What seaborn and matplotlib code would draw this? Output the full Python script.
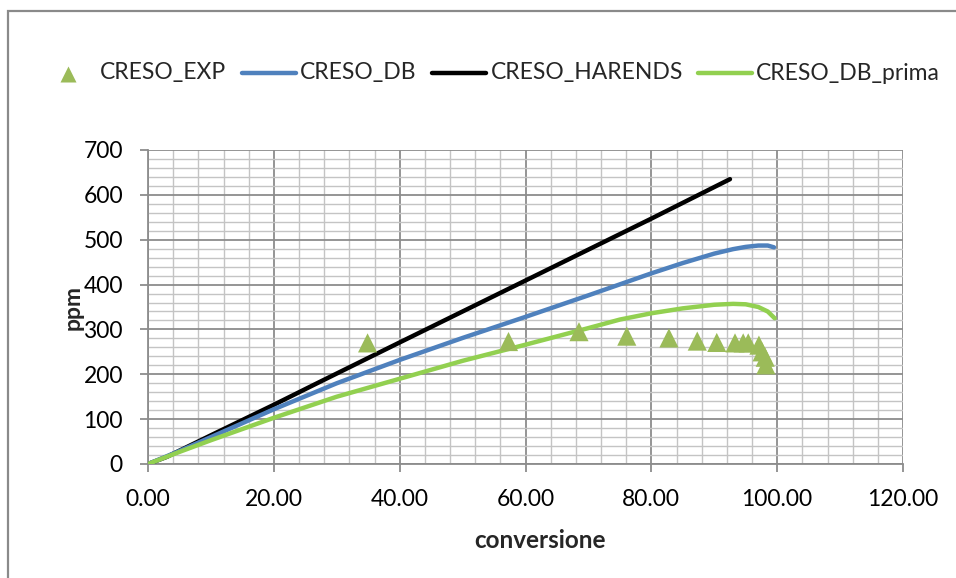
import numpy as np
import pandas as pd
import matplotlib
matplotlib.use("Agg")
import matplotlib.pyplot as plt
from matplotlib.patches import Rectangle
from matplotlib.ticker import MultipleLocator, FormatStrFormatter
from matplotlib.lines import Line2D
import seaborn as sns

# Experimental cresol measurements
exp_conv = [34.9, 57.3, 68.5, 76.1, 82.8, 87.3, 90.4, 93.3, 94.6, 95.4, 97.1, 97.6, 98.1, 98.2]
exp_ppm = [270, 273, 295, 285, 281, 274, 271, 270, 270, 270, 265, 250, 238, 221]

# Model curve: CRESO_DB
db_conv = [0, 5, 10, 20, 30, 40, 50, 60, 70, 80, 85, 90, 93, 95, 97, 98.5, 99.5]
db_ppm = [0, 29, 60, 122, 180, 232, 281, 328, 376, 425, 448, 469, 479, 484, 487, 487, 483]

# Model curve: CRESO_HARENDS
har_conv = [0, 3, 10, 20, 27.3, 40, 60, 80, 92.5]
har_ppm = [0, 16, 64, 132, 183, 271, 409, 547, 635]

# Model curve: CRESO_DB_prima
dbp_conv = [0, 5, 10, 20, 30, 40, 50, 60, 70, 75, 80, 85, 90, 93, 95, 97, 98.5, 99.6]
dbp_ppm = [0, 27, 53, 103, 150, 190, 230, 266, 303, 322, 336, 347, 355, 357, 356, 350, 340, 325]

series_names = ["CRESO_EXP", "CRESO_DB", "CRESO_HARENDS", "CRESO_DB_prima"]

sns.set_theme(style="white")
plt.rcParams["font.family"] = ["Lato", "DejaVu Sans"]

W, H = 956, 578
fig = plt.figure(figsize=(W / 100, H / 100), dpi=100)
ax = fig.add_axes([148 / W, 1 - 464 / H, 755 / W, 314 / H])

major_c = "#8c8c8c"
minor_c = "#c4c4c4"

ax.set_xlim(0, 120)
ax.set_ylim(0, 700)
ax.xaxis.set_major_locator(MultipleLocator(20))
ax.xaxis.set_minor_locator(MultipleLocator(4))
ax.yaxis.set_major_locator(MultipleLocator(100))
ax.yaxis.set_minor_locator(MultipleLocator(20))
ax.xaxis.set_major_formatter(FormatStrFormatter("%.2f"))
ax.grid(which="major", color=major_c, lw=1.3, zorder=0)
ax.grid(which="minor", color=minor_c, lw=1.0, zorder=0)
ax.set_axisbelow(True)
for s in ["left", "bottom"]:
    ax.spines[s].set_color(major_c)
    ax.spines[s].set_linewidth(1.3)
for s in ["top", "right"]:
    ax.spines[s].set_visible(False)
ax.tick_params(which="major", direction="out", length=6, width=1.3, color=major_c,
               labelsize=16.5, labelcolor="black", bottom=True, left=True)
ax.tick_params(axis="x", which="major", pad=12)
ax.tick_params(axis="y", which="major", pad=12)
ax.tick_params(which="minor", length=0)

blue = "#4F81BD"
green = "#92D050"
tri = "#9BBB59"
lw = 3.2

df_db = pd.DataFrame({"conv": db_conv, "ppm": db_ppm})
df_har = pd.DataFrame({"conv": har_conv, "ppm": har_ppm})
df_dbp = pd.DataFrame({"conv": dbp_conv, "ppm": dbp_ppm})
df_exp = pd.DataFrame({"conv": exp_conv, "ppm": exp_ppm})

sns.lineplot(data=df_har, x="conv", y="ppm", ax=ax, color="black", lw=lw, sort=False,
             estimator=None, solid_capstyle="round", zorder=3)
sns.lineplot(data=df_db, x="conv", y="ppm", ax=ax, color=blue, lw=lw, sort=False,
             estimator=None, solid_capstyle="round", zorder=4)
sns.lineplot(data=df_dbp, x="conv", y="ppm", ax=ax, color=green, lw=lw, sort=False,
             estimator=None, solid_capstyle="round", zorder=5)
sns.scatterplot(data=df_exp, x="conv", y="ppm", ax=ax, marker="^", s=190, color=tri,
                edgecolor="none", zorder=6)

ax.set_xlabel("conversione", fontsize=17.5, fontweight="bold")
ax.set_ylabel("ppm", fontsize=16.5, fontweight="bold")
ax.xaxis.set_label_coords((540 - 148) / 755, -(540 - 464) / 314)
ax.yaxis.set_label_coords(-(148 - 73) / 755, (464 - 307) / 314)
ax.xaxis.label.set_va("center")
ax.yaxis.label.set_va("center")


def fx(px):
    return px / W


def fy(py):
    return 1 - py / H


# Legend row drawn in figure pixels
ly = 73
fig.add_artist(Line2D([fx(68)], [fy(ly + 1)], ls="none", marker="^", ms=12, color=tri,
                      mec="none", transform=fig.transFigure))
legend_lines = [(blue, 242, 296, 300), ("black", 432, 486, 491), (green, 698, 752, 756)]
fig.text(fx(100), fy(ly), series_names[0], fontsize=16.5, va="center", ha="left")
for (c, x0, x1, tx), name in zip(legend_lines, series_names[1:]):
    fig.add_artist(Line2D([fx(x0), fx(x1)], [fy(ly), fy(ly)], color=c, lw=lw,
                          solid_capstyle="round", transform=fig.transFigure))
    fig.text(fx(tx), fy(ly), name, fontsize=16.5, va="center", ha="left")

fig.patches.append(Rectangle((8 / W, -0.1), 1.2, 1 - 11 / H + 0.1,
                             transform=fig.transFigure, fill=False,
                             edgecolor="#8a8a8a", lw=1.6))

fig.savefig("out.png", dpi=100)
